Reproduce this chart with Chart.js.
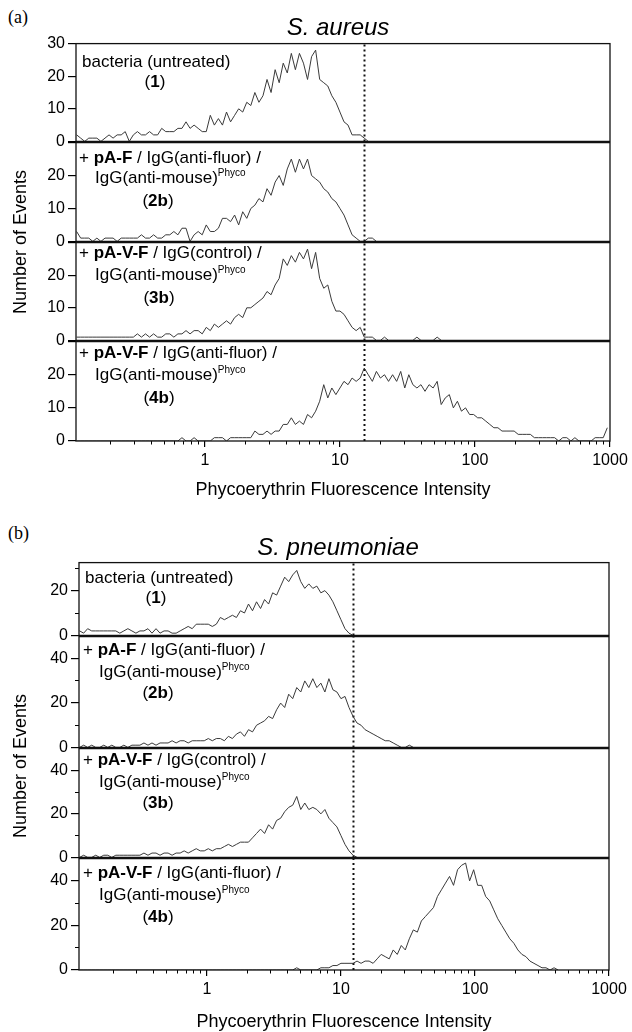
<!DOCTYPE html>
<html>
<head>
<meta charset="utf-8">
<title>Phycoerythrin fluorescence histograms</title>
<script src="https://cdn.jsdelivr.net/npm/chart.js@4.4.1/dist/chart.umd.min.js"></script>
<style>
  html, body { margin: 0; padding: 0; background: #fff; }
  #page { position: relative; width: 632px; height: 1032px; overflow: hidden; background: #fff;
          font-family: 'Liberation Sans', Arial, Helvetica, sans-serif; color: #000; }
  .plot { position: absolute; left: 0; width: 632px; }
  .t { position: absolute; white-space: nowrap; font-size: 17px; line-height: 22px; }
  .t.c { transform: translateX(-50%); }
  .t sup { font-size: 10px; line-height: 0; vertical-align: 7px; }
  .tag { position: absolute; font-family: 'Liberation Serif', 'Times New Roman', serif; font-size: 18px; line-height: 22px; }
  .title { position: absolute; font-style: italic; font-size: 24px; line-height: 28px; white-space: nowrap; transform: translateX(-50%); }
  .ytitle { position: absolute; white-space: nowrap; font-size: 18px; line-height: 22px; transform: translate(-50%, -50%) rotate(-90deg); }
</style>
</head>
<body>
<div id="page"></div>
<script>
// Histogram channels: log10 of the first channel centre and channel width (decades)
const BIN_LOG_START = -0.95;
const BIN_LOG_STEP = 0.03;

// x axis (log) range and ticks
const X_MIN = 0.111;
const X_MAX = 1000;
const X_MAJOR = [1, 10, 100, 1000];
const X_MINOR = [0.2, 0.3, 0.4, 0.5, 0.6, 0.7, 0.8, 0.9,
                 2, 3, 4, 5, 6, 7, 8, 9,
                 20, 30, 40, 50, 60, 70, 80, 90,
                 200, 300, 400, 500, 600, 700, 800, 900];

// dotted gate lines
const GATE_AUREUS = 15.2;
const GATE_PNEUMO = 12.4;

// S. aureus, number of events per channel
const aureus1 = [2,1,0,1,1,1,0,1,2,1, 2,2,3,0,2,3,2,2,3,2, 2,4,3,3,3,4,4,6,4,5,
                 4,3,3,8,5,7,5,9,6,8, 10,9,12,11,15,12,14,19,15,22, 18,24,21,27,22,27,24,19,26,28,
                 19,18,17,14,12,9,6,5,2,2, 2,1,0];
const aureus2 = [3,1,1,1,0,1,0,1,1,1, 0,1,1,1,1,1,2,1,1,2, 1,1,2,2,3,2,4,4,0,2,
                 3,2,5,3,3,4,7,7,6,8, 5,9,7,10,11,13,12,16,14,18, 20,17,22,25,21,25,22,25,20,19,
                 18,16,15,13,12,10,8,5,2,1, 0,0,1,1,0];
const aureus3 = [1,1,1,1,1,1,1,1,1,1, 1,1,1,1,1,2,1,2,1,2, 1,1,2,2,1,2,2,3,2,3,
                 3,2,4,3,5,4,5,6,5,7, 8,7,10,10,11,12,13,15,14,17, 19,25,23,26,24,27,25,28,22,27,
                 19,16,17,12,9,9,8,6,4,3, 4,1,1,1,0,0,1,0,0,0, 0,0,0,0,1,0,0,0,0,1, 0];
const aureus4 = [0,0,0,0,0,0,0,0,0,0, 0,0,0,0,0,0,0,0,0,0, 0,0,0,0,0,0,1,0,0,1,
                 0,0,0,0,1,1,1,0,1,1, 1,1,1,1,3,2,2,3,2,3, 3,5,5,7,5,6,5,8,7,9,
                 12,17,13,16,14,16,18,17,19,18, 19,22,20,18,21,19,20,18,20,18, 21,16,20,17,16,17,15,17,16,18,
                 11,13,14,10,12,9,10,8,8,7, 7,6,5,4,4,3,3,3,3,2, 2,2,2,1,1,1,1,1,1,0,
                 1,1,0,1,0,0,0,0,1,1, 1,4];

// S. pneumoniae, number of events per channel
const pneumo1 = [2,1,3,2,2,2,2,2,2,2, 1,2,3,2,1,2,2,3,1,3, 1,2,2,1,1,2,3,4,3,5,
                 5,5,5,4,5,8,7,8,9,8, 11,10,14,11,15,12,16,14,19,18, 22,26,24,27,29,24,21,23,21,22,
                 19,20,18,15,11,7,3,1,0];
const pneumo2 = [0,1,0,1,0,0,1,0,1,0, 0,1,0,1,1,1,2,1,2,1, 2,2,2,3,2,3,3,2,3,3,
                 3,3,4,3,4,4,3,5,4,6, 7,5,8,7,10,11,12,14,13,17, 20,18,24,22,27,25,30,27,31,27,
                 29,25,31,26,25,22,23,18,14,11, 10,8,7,6,5,4,3,3,2,1, 0,0,1,0];
const pneumo3 = [0,1,0,0,1,0,1,1,0,1, 1,1,1,1,1,1,2,1,2,2, 1,2,2,1,2,2,3,2,3,4,
                 3,3,4,3,4,4,5,6,5,6, 7,7,7,9,11,13,11,15,13,17, 18,21,23,24,28,22,25,22,23,22,
                 20,22,18,16,14,10,6,3,1,0];
const pneumo4 = [0,0,0,0,0,0,0,0,0,0, 0,0,0,0,0,0,0,0,0,0, 0,0,0,0,0,0,0,0,0,0,
                 0,0,0,0,0,0,0,0,0,0, 0,0,0,0,0,0,0,0,0,0, 0,0,0,0,1,0,0,0,0,0,
                 1,1,1,2,2,3,3,3,3,4, 3,4,4,3,5,7,6,5,9,7, 11,9,14,18,17,22,24,26,28,33,
                 36,39,42,38,45,47,48,40,45,38, 38,33,31,27,23,20,17,14,12,9, 7,6,4,3,2,1,1,0,1,0];

// y ranges and ticks
const AUREUS_YMAX = [30, 30, 30, 30];
const AUREUS_YTICKS = [0, 10, 20, 30];
const AUREUS_YMINOR = [];
const PNEUMO_YMAX = [32.5, 50, 50, 50];
const PNEUMO_YTICKS = [0, 20, 40];
const PNEUMO_YMINOR = [10, 30];

const X_TITLE = 'Phycoerythrin Fluorescence Intensity';
const Y_TITLE = 'Number of Events';
const FONT = "'Liberation Sans', Arial, sans-serif";

// page layout (pixels)
const PANELS = [
  { left: 76, right: 610, edges: [43, 142, 242, 341, 441], axisH: 60, gate: GATE_AUREUS,
    series: [aureus1, aureus2, aureus3, aureus4], ymax: AUREUS_YMAX, ticks: AUREUS_YTICKS, minor: AUREUS_YMINOR },
  { left: 79, right: 609, edges: [562, 636, 748, 858, 970], axisH: 63, gate: GATE_PNEUMO,
    series: [pneumo1, pneumo2, pneumo3, pneumo4], ymax: PNEUMO_YMAX, ticks: PNEUMO_YTICKS, minor: PNEUMO_YMINOR }
];

const PHYCO = 'IgG(anti-mouse)<sup>Phyco</sup>';
const TEXTS = [
  // x, centre y, html, centred
  [82, 62, 'bacteria (untreated)'], [155, 82, '(<b>1</b>)', true],
  [79, 158, '+ <b>pA-F</b> / IgG(anti-fluor) /'], [95, 178, PHYCO], [158, 201, '(<b>2b</b>)', true],
  [79, 253, '+ <b>pA-V-F</b> / IgG(control) /'], [95, 275, PHYCO], [159, 298, '(<b>3b</b>)', true],
  [79, 353, '+ <b>pA-V-F</b> / IgG(anti-fluor) /'], [95, 375, PHYCO], [159, 398, '(<b>4b</b>)', true],
  [85, 578, 'bacteria (untreated)'], [156, 598, '(<b>1</b>)', true],
  [83, 650, '+ <b>pA-F</b> / IgG(anti-fluor) /'], [99, 672, PHYCO], [158, 693, '(<b>2b</b>)', true],
  [83, 760, '+ <b>pA-V-F</b> / IgG(control) /'], [99, 782, PHYCO], [158, 803, '(<b>3b</b>)', true],
  [83, 873, '+ <b>pA-V-F</b> / IgG(anti-fluor) /'], [99, 895, PHYCO], [158, 917, '(<b>4b</b>)', true]
];

const page = document.getElementById('page');

function addEl(cls, html, css) {
  const el = document.createElement('div');
  el.className = cls;
  el.innerHTML = html;
  Object.assign(el.style, css);
  page.appendChild(el);
  return el;
}

// Draws the box round each plot area
const framePlugin = {
  id: 'frame',
  afterDraw(chart) {
    const { ctx, chartArea: a } = chart;
    ctx.save();
    ctx.strokeStyle = '#111';
    ctx.lineWidth = 1.3;
    ctx.strokeRect(a.left, a.top, a.right - a.left, a.bottom - a.top);
    ctx.restore();
  }
};

function toPoints(counts) {
  return counts.map((c, i) => ({ x: Math.pow(10, BIN_LOG_START + i * BIN_LOG_STEP), y: c }));
}

const PAD = 12;

function makeSubplot(panel, k) {
  const top = panel.edges[k];
  const bottom = panel.edges[k + 1];
  const last = k === 3;
  const h = (last ? panel.axisH : PAD) + PAD + (bottom - top);

  const wrap = document.createElement('div');
  wrap.className = 'plot';
  wrap.style.top = (top - PAD) + 'px';
  wrap.style.height = h + 'px';
  const cv = document.createElement('canvas');
  cv.width = 632;
  cv.height = h;
  wrap.appendChild(cv);
  page.appendChild(wrap);

  const ymax = panel.ymax[k];
  const majors = panel.ticks.filter(v => v <= ymax);
  const minors = panel.minor.filter(v => v <= ymax);

  new Chart(cv, {
    type: 'line',
    data: {
      datasets: [
        {
          data: toPoints(panel.series[k]),
          borderColor: '#3a3a3a',
          borderWidth: 1,
          pointRadius: 0,
          tension: 0,
          xAxisID: 'x',
          yAxisID: 'y'
        },
        {
          data: [{ x: panel.gate, y: 0 }, { x: panel.gate, y: ymax }],
          borderColor: '#111',
          borderWidth: 2,
          borderDash: [2, 3],
          pointRadius: 0,
          xAxisID: 'x',
          yAxisID: 'y'
        }
      ]
    },
    options: {
      responsive: false,
      animation: false,
      devicePixelRatio: 1,
      events: [],
      layout: { padding: { top: PAD, bottom: last ? 0 : PAD, left: 0, right: 632 - panel.right } },
      plugins: { legend: { display: false }, tooltip: { enabled: false } },
      scales: {
        x: {
          type: 'logarithmic',
          display: last,
          position: 'bottom',
          weight: 1,
          min: X_MIN,
          max: X_MAX,
          afterBuildTicks: s => { s.ticks = X_MAJOR.map(v => ({ value: v })); },
          afterFit: s => { s.height = last ? panel.axisH : 0; },
          grid: { drawOnChartArea: false, drawTicks: true, tickLength: 6, color: '#000', lineWidth: 1.2 },
          border: { display: false },
          ticks: { color: '#000', font: { family: FONT, size: 16 }, padding: 4, maxRotation: 0, autoSkip: false,
                   callback: v => String(v) },
          title: { display: true, text: X_TITLE, color: '#000', font: { family: FONT, size: 18 }, padding: 0 }
        },
        xm: {
          type: 'logarithmic',
          display: last,
          position: 'bottom',
          weight: 0,
          min: X_MIN,
          max: X_MAX,
          afterBuildTicks: s => { s.ticks = X_MINOR.map(v => ({ value: v })); },
          afterFit: s => { s.height = 0; },
          grid: { drawOnChartArea: false, drawTicks: true, tickLength: 3.5, color: '#000', lineWidth: 1 },
          border: { display: false },
          ticks: { display: false }
        },
        y: {
          position: 'left',
          weight: 1,
          min: 0,
          max: ymax,
          afterBuildTicks: s => { s.ticks = majors.map(v => ({ value: v })); },
          afterFit: s => { s.width = panel.left; },
          grid: { drawOnChartArea: false, drawTicks: true, tickLength: 8, color: '#000', lineWidth: 1.2 },
          border: { display: false },
          ticks: { color: '#000', font: { family: FONT, size: 16 }, padding: 3,
                   callback: v => (v === ymax && k > 0) ? '' : String(v) }
        },
        ym: {
          position: 'left',
          weight: 0,
          display: minors.length > 0,
          min: 0,
          max: ymax,
          afterBuildTicks: s => { s.ticks = minors.map(v => ({ value: v })); },
          afterFit: s => { s.width = 0; },
          grid: { drawOnChartArea: false, drawTicks: true, tickLength: 4, color: '#000', lineWidth: 1 },
          border: { display: false },
          ticks: { display: false }
        }
      }
    },
    plugins: [framePlugin]
  });
}

PANELS.forEach(p => { for (let k = 0; k < 4; k++) makeSubplot(p, k); });

// headings
addEl('tag', '(a)', { left: '8px', top: '6px' });
addEl('title', 'S. aureus', { left: '338px', top: '13px' });
addEl('tag', '(b)', { left: '8px', top: '522px' });
addEl('title', 'S. pneumoniae', { left: '338px', top: '533px' });
addEl('ytitle', Y_TITLE, { left: '20px', top: '242px' });
addEl('ytitle', Y_TITLE, { left: '20px', top: '766px' });

TEXTS.forEach(([x, cy, html, centred]) => {
  addEl(centred ? 't c' : 't', html, { left: x + 'px', top: (cy - 11) + 'px' });
});
</script>
</body>
</html>
